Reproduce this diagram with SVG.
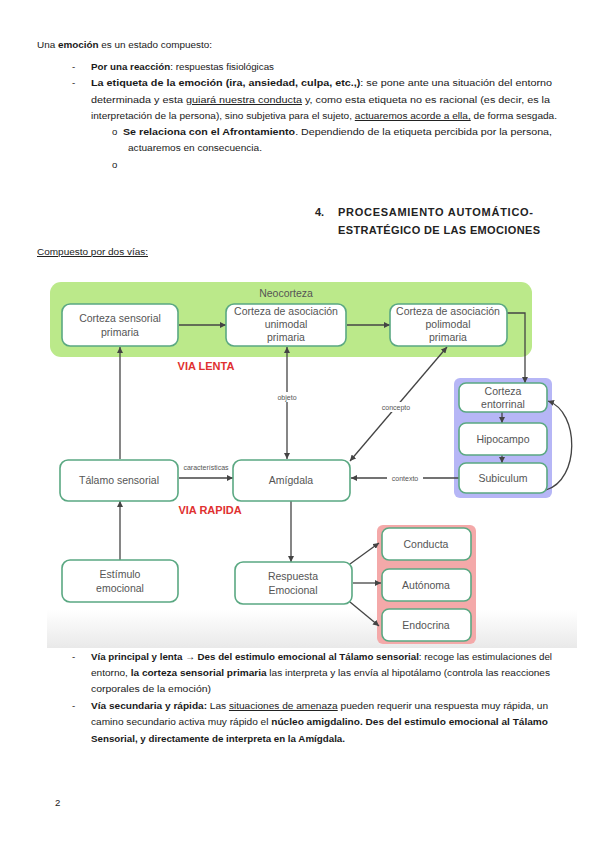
<svg xmlns="http://www.w3.org/2000/svg" width="599" height="848" viewBox="0 0 599 848">
<style>
.doc{font-family:"Liberation Sans",Arial,sans-serif;font-size:9.6px;fill:#1a1a1a}
.b{font-weight:bold}
.u{text-decoration:underline}
.hd{font-family:"Liberation Sans",Arial,sans-serif;font-size:11px;font-weight:bold;fill:#222}
.box{fill:#fff;stroke:#5aa882;stroke-width:1.6}
.lbl{font-family:"Liberation Sans",Arial,sans-serif;font-size:10.5px;fill:#555;text-anchor:middle}
.sm{font-family:"Liberation Sans",Arial,sans-serif;font-size:7px;fill:#555;text-anchor:middle}
.via{font-family:"Liberation Sans",Arial,sans-serif;font-size:11px;font-weight:bold;fill:#e03030;text-anchor:middle}
.ln{stroke:#444;stroke-width:1.3;fill:none}
.ar{marker-end:url(#ah)}
.ar2{marker-end:url(#ah);marker-start:url(#ah)}
</style>
<defs>
<marker id="ah" viewBox="0 0 10 10" refX="10" refY="5" markerWidth="6" markerHeight="6" markerUnits="userSpaceOnUse" orient="auto-start-reverse">
<path d="M0,0 L10,5 L0,10 z" fill="#444"/>
</marker>
<linearGradient id="fade" x1="0" y1="0" x2="0" y2="1">
<stop offset="0" stop-color="#ffffff"/>
<stop offset="1" stop-color="#e9e9e9"/>
</linearGradient>
</defs>
<rect width="599" height="848" fill="#fff"/>

<!-- top document text -->
<g id="text-top">
<text class="doc" x="37" y="48" textLength="175" lengthAdjust="spacingAndGlyphs">Una <tspan class="b">emoción</tspan> es un estado compuesto:</text>
<text class="doc" x="72" y="70">-</text>
<text class="doc" x="91" y="70" textLength="183" lengthAdjust="spacingAndGlyphs"><tspan class="b">Por una reacción</tspan>: respuestas fisiológicas</text>
<text class="doc" x="72" y="86">-</text>
<text class="doc" x="91" y="86" textLength="461" lengthAdjust="spacingAndGlyphs"><tspan class="b">La etiqueta de la emoción (ira, ansiedad, culpa, etc.,)</tspan>: se pone ante una situación del entorno</text>
<text class="doc" x="91" y="103" textLength="459" lengthAdjust="spacingAndGlyphs">determinada y esta <tspan class="u">guiará nuestra conducta</tspan> y, como esta etiqueta no es racional (es decir, es la</text>
<text class="doc" x="91" y="119" textLength="466" lengthAdjust="spacingAndGlyphs">interpretación de la persona), sino subjetiva para el sujeto, <tspan class="u">actuaremos acorde a ella,</tspan> de forma sesgada.</text>
<text class="doc" x="112" y="135">o</text>
<text class="doc" x="123" y="135" textLength="429" lengthAdjust="spacingAndGlyphs"><tspan class="b">Se relaciona con el Afrontamiento</tspan>. Dependiendo de la etiqueta percibida por la persona,</text>
<text class="doc" x="128" y="151" textLength="134" lengthAdjust="spacingAndGlyphs">actuaremos en consecuencia.</text>
<text class="doc" x="112" y="168">o</text>
<text class="hd" x="315" y="216">4.</text>
<text class="hd" x="338" y="216" textLength="195" lengthAdjust="spacing">PROCESAMIENTO AUTOMÁTICO-</text>
<text class="hd" x="338" y="234" textLength="202" lengthAdjust="spacing">ESTRATÉGICO DE LAS EMOCIONES</text>
<text class="doc u" x="37" y="255" textLength="111" lengthAdjust="spacingAndGlyphs">Compuesto por dos vías:</text>
</g>

<!-- diagram backgrounds -->
<rect x="47" y="610" width="530" height="38" fill="url(#fade)"/>
<rect id="neocorteza" x="50" y="282" width="482" height="75" rx="11" fill="#bbe98a"/>
<text class="lbl" x="286" y="297">Neocorteza</text>
<rect id="panel-blue" x="454" y="378" width="98" height="120" rx="6" fill="#b6b6f6"/>
<rect id="panel-red" x="377" y="525" width="99" height="119" rx="6" fill="#f4a9a9"/>
<text class="via" x="206" y="370">VIA LENTA</text>
<text class="via" x="210" y="514">VIA RAPIDA</text>

<!-- connectors -->
<g id="connectors">
<line class="ln ar" x1="120" y1="459" x2="120" y2="347"/>
<line class="ln ar" x1="120" y1="560" x2="120" y2="501"/>
<line class="ln ar" x1="179" y1="325" x2="226" y2="325"/>
<line class="ln ar" x1="347" y1="325" x2="390" y2="325"/>
<path class="ln ar" d="M507,313 H525 V383"/>
<line class="ln ar2" x1="287" y1="459" x2="287" y2="347"/>
<rect x="274" y="392" width="26" height="10" fill="#fff"/>
<text class="sm" x="287" y="400">objeto</text>
<line class="ln ar2" x1="350" y1="461" x2="447" y2="347"/>
<rect x="378" y="402" width="36" height="10" fill="#fff"/>
<text class="sm" x="396" y="410">concepto</text>
<line class="ln ar" x1="179" y1="478" x2="233" y2="478"/>
<text class="sm" x="206" y="470">características</text>
<line class="ln ar" x1="459" y1="478" x2="351" y2="478"/>
<rect x="387" y="473" width="36" height="10" fill="#fff"/>
<text class="sm" x="405" y="481">contexto</text>
<line class="ln ar" x1="502" y1="412" x2="502" y2="423"/>
<line class="ln ar" x1="502" y1="455" x2="502" y2="463"/>
<path class="ln ar" d="M546,490 C580,480 580,412 548,401"/>
<line class="ln ar" x1="291" y1="501" x2="291" y2="562"/>
<line class="ln ar" x1="350" y1="564" x2="379" y2="543"/>
<line class="ln ar" x1="353" y1="583" x2="381" y2="583"/>
<line class="ln ar" x1="350" y1="602" x2="379" y2="626"/>
</g>

<!-- nodes -->
<g id="n-sensorial"><rect class="box" x="62" y="304" width="116" height="42" rx="8"/>
<text class="lbl" x="120" y="322">Corteza sensorial</text><text class="lbl" x="120" y="336">primaria</text></g>
<g id="n-unimodal"><rect class="box" x="226" y="304" width="120" height="42" rx="8"/>
<text class="lbl" x="286" y="315">Corteza de asociación</text><text class="lbl" x="286" y="328">unimodal</text><text class="lbl" x="286" y="341">primaria</text></g>
<g id="n-polimodal"><rect class="box" x="390" y="304" width="117" height="42" rx="8"/>
<text class="lbl" x="448" y="315">Corteza de asociación</text><text class="lbl" x="448" y="328">polimodal</text><text class="lbl" x="448" y="341">primaria</text></g>
<g id="n-entorrinal"><rect class="box" x="459" y="383" width="88" height="29" rx="7"/>
<text class="lbl" x="503" y="395">Corteza</text><text class="lbl" x="503" y="408">entorrinal</text></g>
<g id="n-hipocampo"><rect class="box" x="459" y="423" width="88" height="32" rx="7"/>
<text class="lbl" x="503" y="443">Hipocampo</text></g>
<g id="n-subiculum"><rect class="box" x="459" y="463" width="88" height="30" rx="7"/>
<text class="lbl" x="503" y="482">Subiculum</text></g>
<g id="n-talamo"><rect class="box" x="60" y="460" width="118" height="41" rx="8"/>
<text class="lbl" x="119" y="484">Tálamo sensorial</text></g>
<g id="n-amigdala"><rect class="box" x="233" y="460" width="117" height="41" rx="8"/>
<text class="lbl" x="291" y="484">Amígdala</text></g>
<g id="n-estimulo"><rect class="box" x="62" y="560" width="116" height="42" rx="8"/>
<text class="lbl" x="120" y="578">Estímulo</text><text class="lbl" x="120" y="592">emocional</text></g>
<g id="n-respuesta"><rect class="box" x="235" y="562" width="117" height="42" rx="8"/>
<text class="lbl" x="293" y="580">Respuesta</text><text class="lbl" x="293" y="594">Emocional</text></g>
<g id="n-conducta"><rect class="box" x="382" y="528" width="89" height="32" rx="7"/>
<text class="lbl" x="426" y="548">Conducta</text></g>
<g id="n-autonoma"><rect class="box" x="382" y="569" width="89" height="32" rx="7"/>
<text class="lbl" x="426" y="589">Autónoma</text></g>
<g id="n-endocrina"><rect class="box" x="382" y="609" width="89" height="32" rx="7"/>
<text class="lbl" x="426" y="629">Endocrina</text></g>

<!-- bottom document text -->
<g id="text-bottom">
<text class="doc" x="72" y="660">-</text>
<text class="doc" x="91" y="660" textLength="461" lengthAdjust="spacingAndGlyphs"><tspan class="b">Vía principal y lenta → Des del estimulo emocional al Tálamo sensorial</tspan>: recoge las estimulaciones del</text>
<text class="doc" x="91" y="676" textLength="459" lengthAdjust="spacingAndGlyphs">entorno, <tspan class="b">la corteza sensorial primaria</tspan> las interpreta y las envía al hipotálamo (controla las reacciones</text>
<text class="doc" x="91" y="692" textLength="120" lengthAdjust="spacingAndGlyphs">corporales de la emoción)</text>
<text class="doc" x="72" y="709">-</text>
<text class="doc" x="91" y="709" textLength="457" lengthAdjust="spacingAndGlyphs"><tspan class="b">Vía secundaria y rápida:</tspan> Las <tspan class="u">situaciones de amenaza</tspan> pueden requerir una respuesta muy rápida, un</text>
<text class="doc" x="91" y="725" textLength="457" lengthAdjust="spacingAndGlyphs">camino secundario activa muy rápido el <tspan class="b">núcleo amigdalino. Des del estimulo emocional al Tálamo</tspan></text>
<text class="doc b" x="91" y="742" textLength="254" lengthAdjust="spacingAndGlyphs">Sensorial, y directamente de interpreta en la Amígdala.</text>
<text class="doc" x="55" y="806">2</text>
</g>
</svg>
